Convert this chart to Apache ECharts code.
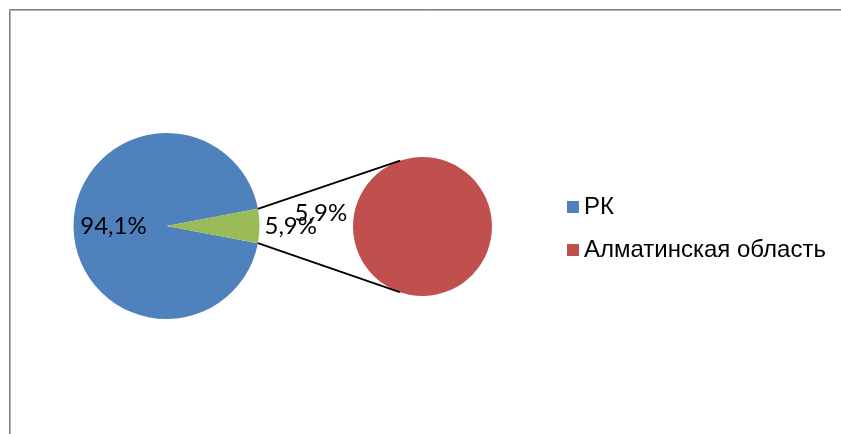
<!DOCTYPE html>
<html><head><meta charset="utf-8">
<script src="https://cdn.jsdelivr.net/npm/echarts@6/dist/echarts.min.js"></script>
<style>html,body{margin:0;padding:0;background:#fff}#c{width:841px;height:434px}</style>
</head><body><div id="c"></div>
<script>
// Data
const categories = ['РК', 'Алматинская область'];
const values = [94.1, 5.9];
const otherName = 'Прочее';
const colors = ['#4F81BD', '#C0504D', '#9BBB59'];

// Layout
const main = {cx: 166.5, cy: 226, r: 93};
const sec = {cx: 422.5, cy: 226.5, r: 69.5};

const total = values[0] + values[1];
const half = values[1] / total * 180;
function fmt(v) { return v.toFixed(1).replace('.', ',') + '%'; }

const a = half * Math.PI / 180;
const ax = main.cx + main.r * Math.cos(a);
const ayTop = main.cy - main.r * Math.sin(a);
const ayBot = main.cy + main.r * Math.sin(a);
function tangent(px, py, sign) {
  const dx = px - sec.cx, dy = py - sec.cy;
  const d = Math.hypot(dx, dy);
  const base = Math.atan2(dy, dx);
  const off = Math.acos(sec.r / d);
  const ang = base + sign * off;
  return [sec.cx + sec.r * Math.cos(ang), sec.cy + sec.r * Math.sin(ang)];
}
const tTop = tangent(ax, ayTop, 1);
const tBot = tangent(ax, ayBot, -1);

const labelFont = {fontFamily: 'Lato', fontSize: 24, color: '#000'};

const chart = echarts.init(document.getElementById('c'));
chart.setOption({
  animation: false,
  legend: {
    data: categories,
    orient: 'vertical',
    left: 567, top: 195,
    padding: 0,
    itemWidth: 12, itemHeight: 12, itemGap: 19,
    icon: 'rect',
    selectedMode: false,
    textStyle: {fontFamily: 'Liberation Sans', fontSize: 24, lineHeight: 24, color: '#000'}
  },
  graphic: [
    {type: 'rect', silent: true, shape: {x: 9.5, y: 9.5, width: 900, height: 600}, style: {fill: 'none', stroke: '#7f7f7f', lineWidth: 1}},
    {type: 'rect', silent: true, shape: {x: 10.5, y: 10.5, width: 900, height: 600}, style: {fill: 'none', stroke: '#b5b5b5', lineWidth: 1}},
    {type: 'line', silent: true, z: 10, shape: {x1: ax, y1: ayTop, x2: tTop[0], y2: tTop[1]}, style: {stroke: '#000', lineWidth: 1.8}},
    {type: 'line', silent: true, z: 10, shape: {x1: ax, y1: ayBot, x2: tBot[0], y2: tBot[1]}, style: {stroke: '#000', lineWidth: 1.8}}
  ],
  series: [
    {
      type: 'pie',
      center: [main.cx, main.cy],
      radius: main.r,
      startAngle: -half,
      clockwise: true,
      avoidLabelOverlap: false,
      labelLayout: {hideOverlap: false},
      silent: true,
      itemStyle: {borderWidth: 0},
      label: Object.assign({show: true, formatter: p => fmt(p.value / total * 100)}, labelFont),
      data: [
        {name: categories[0], value: values[0], itemStyle: {color: colors[0]},
         label: {position: 'inside', padding: [0, 7, 0, 0]}},
        {name: otherName, value: values[1], itemStyle: {color: colors[2]},
         label: {show: true, position: 'outside', distanceToLabelLine: 2},
         labelLine: {show: false, length: 3, length2: 0}}
      ]
    },
    {
      type: 'pie',
      center: [sec.cx, sec.cy],
      radius: sec.r,
      startAngle: 350,
      clockwise: true,
      avoidLabelOverlap: false,
      labelLayout: {hideOverlap: false},
      silent: true,
      z: 3,
      itemStyle: {borderWidth: 0},
      label: Object.assign({position: 'outside', distanceToLabelLine: 2, formatter: p => fmt(p.value / total * 100)}, labelFont),
      labelLine: {show: false, length: 5, length2: 0},
      data: [
        {name: categories[1], value: values[1], itemStyle: {color: colors[1]}}
      ]
    }
  ]
});
</script>
</body></html>
